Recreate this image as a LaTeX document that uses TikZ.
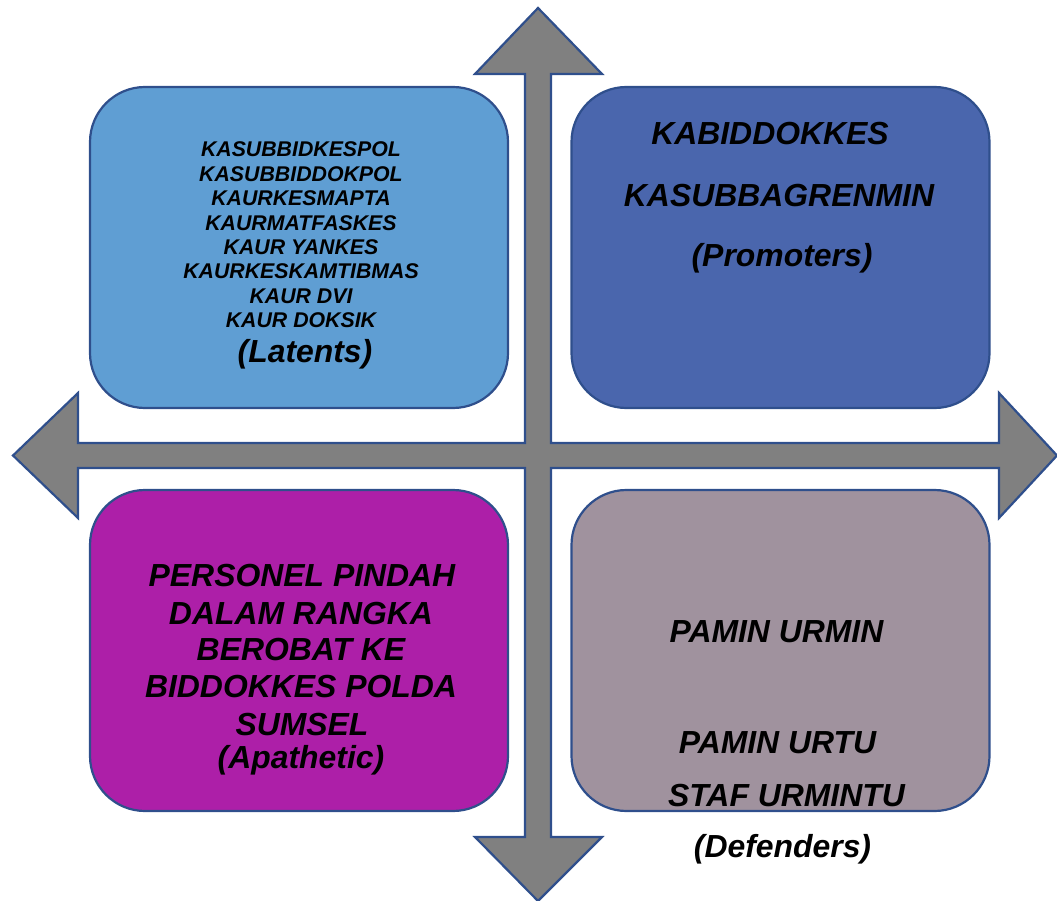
\documentclass[tikz,border=0pt]{standalone}
\usepackage{fontspec}
\setmainfont{Liberation Sans}
\definecolor{edge}{HTML}{2F4F8C}
\definecolor{crossgray}{HTML}{808080}
\definecolor{latentc}{HTML}{5F9ED3}
\definecolor{promoc}{HTML}{4A66AD}
\definecolor{apathc}{HTML}{AD1FA8}
\definecolor{defendc}{HTML}{A0929E}
\begin{document}
\begin{tikzpicture}[x=1pt,y=-1pt,
  quad/.style={draw=edge,line width=2.2pt,rounded corners=55pt,minimum width=418pt,minimum height=321pt,inner sep=0pt},
  big/.style={anchor=base,inner sep=0pt,font=\fontsize{31.9}{36}\selectfont\bfseries\itshape},
  small/.style={anchor=base,inner sep=0pt,font=\fontsize{21.3}{24}\selectfont\bfseries\itshape}]
\useasboundingbox (0,0) rectangle (1057,901);
% quad arrow
\draw[draw=edge,fill=crossgray,line width=2.2pt,line join=miter]
 (538,8) -- (602,74) -- (551,74) -- (551,443) -- (999,443) -- (999,393) -- (1057,455.5)
 -- (999,518) -- (999,468) -- (551,468) -- (551,837) -- (602,837) -- (538,901)
 -- (475,837) -- (525,837) -- (525,468) -- (78,468) -- (78,518) -- (13,455.5)
 -- (78,393) -- (78,443) -- (525,443) -- (525,74) -- (475,74) -- cycle;
% boxes
\node[quad,fill=latentc] (tl) at (299,247.5) {};
\node[quad,fill=promoc] (tr) at (780.5,247.5) {};
\node[quad,fill=apathc] (bl) at (299,650.5) {};
\node[quad,fill=defendc] (br) at (780.5,650.5) {};
% latents
\node[small] (l1) at (301,157) {KASUBBIDKESPOL};
\node[small] (l2) at (301,181.4) {KASUBBIDDOKPOL};
\node[small] (l3) at (301,205.8) {KAURKESMAPTA};
\node[small] (l4) at (301,230.2) {KAURMATFASKES};
\node[small] (l5) at (301,254.6) {KAUR YANKES};
\node[small] (l6) at (301,279) {KAURKESKAMTIBMAS};
\node[small] (l7) at (301,303.4) {KAUR DVI};
\node[small] (l8) at (301,327.8) {KAUR DOKSIK};
\node[big] (l9) at (305,362) {(Latents)};
% promoters
\node[big] (p1) at (770,145) {KABIDDOKKES};
\node[big] (p2) at (779,207) {KASUBBAGRENMIN};
\node[big] (p3) at (782,267) {(Promoters)};
% apathetic
\node[big] (a1) at (302,586) {PERSONEL PINDAH};
\node[big] (a2) at (301,624) {DALAM RANGKA};
\node[big] (a3) at (301,660) {BEROBAT KE};
\node[big] (a4) at (301,697) {BIDDOKKES POLDA};
\node[big] (a5) at (302,735) {SUMSEL};
\node[big] (a6) at (301,768) {(Apathetic)};
% defenders
\node[big] (d1) at (776.5,642) {PAMIN URMIN};
\node[big] (d2) at (777.5,753) {PAMIN URTU};
\node[big] (d3) at (786.5,806) {STAF URMINTU};
\node[big] (d4) at (782.5,857) {(Defenders)};
\end{tikzpicture}
\end{document}
